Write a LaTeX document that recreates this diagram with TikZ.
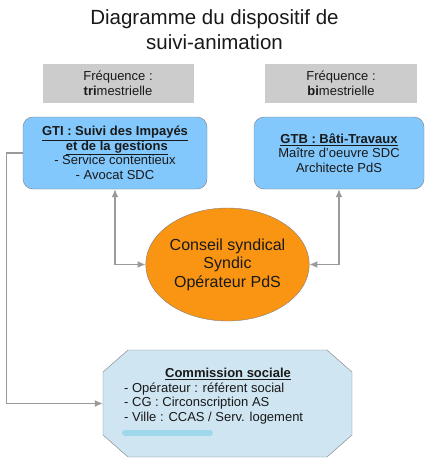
\documentclass[tikz,border=0pt]{standalone}
\usepackage{fontspec}
\setmainfont{Liberation Sans}
\usetikzlibrary{arrows.meta, shapes.geometric}

\definecolor{freqgray}{HTML}{CCCCCC}
\definecolor{boxblue}{HTML}{82C8FC}
\definecolor{pdsorange}{HTML}{FA9514}
\definecolor{socialblue}{HTML}{CFE5F2}
\definecolor{linegray}{HTML}{9A9A9A}
\definecolor{bordergray}{HTML}{7F7F7F}
\definecolor{marker}{HTML}{9FD8EA}

\begin{document}
\begin{tikzpicture}[x=1pt,y=-1pt,>={Latex[length=8pt,width=7pt]},
  every node/.style={font=\fontsize{13}{14.5}\selectfont,text=black!90},
  freq box/.style={fill=freqgray,minimum width=151pt,minimum height=39pt,align=center},
  group box/.style={rectangle,rounded corners=10pt,draw=bordergray,fill=boxblue,
    minimum height=72pt,align=center,inner sep=0pt},
  link/.style={draw=linegray,line width=1.2pt}]

  \useasboundingbox (0,0) rectangle (429,471);

  \node[font=\fontsize{20.5}{25}\selectfont,align=center] (title) at (214.5,30)
    {Diagramme du dispositif de\\suivi-animation};

  \node[freq box] (freqgti) at (118,83.5) {Fréquence :\\\textbf{tri}mestrielle};
  \node[freq box,minimum width=152pt] (freqgtb) at (341,83.5) {Fréquence :\\\textbf{bi}mestrielle};

  \node[group box,minimum width=184pt] (gti) at (115,153)
    {\underline{\textbf{GTI : Suivi des Impayés}}\\
     \ \underline{\textbf{et de la gestions}}\\
     - Service contentieux\\ - Avocat SDC};
  \node[group box,minimum width=170pt] (gtb) at (339,153)
    {\underline{\textbf{GTB : Bâti-Travaux}}\\
     Maître d'oeuvre SDC\\ Architecte PdS};

  \node[ellipse,draw=bordergray,fill=pdsorange,minimum width=151pt,minimum height=113pt,
    inner sep=0pt,align=center,font=\fontsize{16}{18.5}\selectfont] (conseil) at (227.5,264.5)
    {Conseil syndical\\Syndic\\Opérateur PdS};

  % commission sociale (octagone)
  \node[minimum width=249pt,minimum height=107pt,inner sep=0pt] (social) at (227.5,403.5) {};
  \draw[draw=bordergray,fill=socialblue] (103,372) -- (128,350) -- (327,350) -- (352,372)
    -- (352,435) -- (327,457) -- (128,457) -- (103,435) -- cycle;
  \draw[marker,line width=6pt,line cap=round] (125,433) -- (210,433);
  \node (socialtitle) at (228,374) {\underline{\textbf{Commission sociale}}};
  \node[anchor=west,align=left,inner sep=0pt] (socialmembers) at (124,403.5)
    {- Opérateur : référent social\\- CG : Circonscription AS\\- Ville : CCAS / Serv. logement};

  \draw[link,<->] (conseil.west) -| (gti.south);
  \draw[link,<->] (conseil.east) -| (gtb.south);
  \draw[link,->] (gti.west) -- ++(-16,0) |- (social.west);
\end{tikzpicture}
\end{document}
